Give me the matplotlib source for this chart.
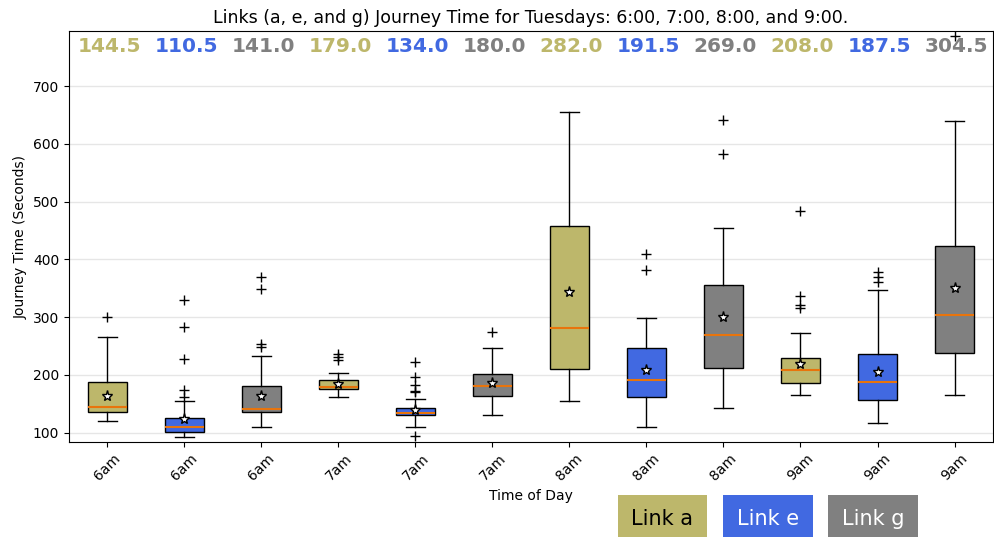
import matplotlib
matplotlib.use("Agg")
import matplotlib.pyplot as plt

# DATA
labels = ['6am', '6am', '6am', '7am', '7am', '7am', '8am', '8am', '8am', '9am', '9am', '9am']
links = ['a', 'e', 'g'] * 4
medians = [144.5, 110.5, 141.0, 179.0, 134.0, 180.0, 282.0, 191.5, 269.0, 208.0, 187.5, 304.5]
q1 = [135, 101, 135, 175, 130, 163, 211, 162, 212, 186, 157, 238]
q3 = [188, 125, 180, 192, 143, 201, 458, 246, 356, 229, 237, 423]
whis_lo = [121, 92, 110, 161, 110, 130, 155, 110, 143, 165, 117, 165]
whis_hi = [265, 155, 232, 203, 159, 246, 655, 298, 455, 272, 347, 640]
means = [164, 124, 163, 185, 140, 186, 344, 208, 300, 219, 205, 350]
fliers = [
    [300],
    [330, 283, 227, 174, 161],
    [369, 349, 253, 248],
    [237, 231, 225],
    [222, 197, 183, 173, 170, 94],
    [274],
    [],
    [409, 382],
    [642, 583],
    [484, 337, 321, 315],
    [378, 369, 361],
    [787],
]

link_colors = {'a': 'darkkhaki', 'e': 'royalblue', 'g': 'gray'}
link_text = {'a': 'black', 'e': 'white', 'g': 'white'}

stats = []
for i in range(len(labels)):
    stats.append({'med': medians[i], 'q1': q1[i], 'q3': q3[i],
                  'whislo': whis_lo[i], 'whishi': whis_hi[i],
                  'mean': means[i], 'fliers': fliers[i], 'label': labels[i]})

fig = plt.figure(figsize=(9.95, 5.37), dpi=100)
ax = fig.add_axes([0.0693, 0.177, 0.9287, 0.765])

bp = ax.bxp(stats, showmeans=True, patch_artist=True, widths=0.5,
            medianprops=dict(color='#e8740c', linewidth=1.5),
            meanprops=dict(marker='*', markerfacecolor='white', markeredgecolor='black', markersize=8),
            flierprops=dict(marker='+', markeredgecolor='black', markersize=7))
for patch, lk in zip(bp['boxes'], links):
    patch.set_facecolor(link_colors[lk])

ax.set_ylim(84, 795)
ax.set_xlim(0.5, 12.5)
ax.set_yticks([100, 200, 300, 400, 500, 600, 700])
ax.yaxis.grid(True, color='#e6e6e6', linewidth=1)
ax.set_axisbelow(True)
plt.setp(ax.get_xticklabels(), rotation=45)

# median labels across the top
for i, m in enumerate(medians):
    ax.text(i + 1.02, 0.962, '%.1f' % m, transform=ax.get_xaxis_transform(),
            ha='center', va='center', fontsize=14.5, fontweight='bold',
            color=link_colors[links[i]])

ax.set_title('Links (a, e, and g) Journey Time for Tuesdays: 6:00, 7:00, 8:00, and 9:00.', fontsize=12.5)
ax.set_xlabel('Time of Day')
ax.set_ylabel('Journey Time (Seconds)')

# legend boxes
for lk, xpos in zip(['a', 'e', 'g'], [0.6658, 0.7719, 0.8774]):
    fig.text(xpos, 0.0223, 'Link ' + lk, ha='center', va='baseline', fontsize=15,
             color=link_text[lk],
             bbox=dict(facecolor=link_colors[lk], edgecolor='none', pad=10))

fig.savefig('out.png', dpi=100)
